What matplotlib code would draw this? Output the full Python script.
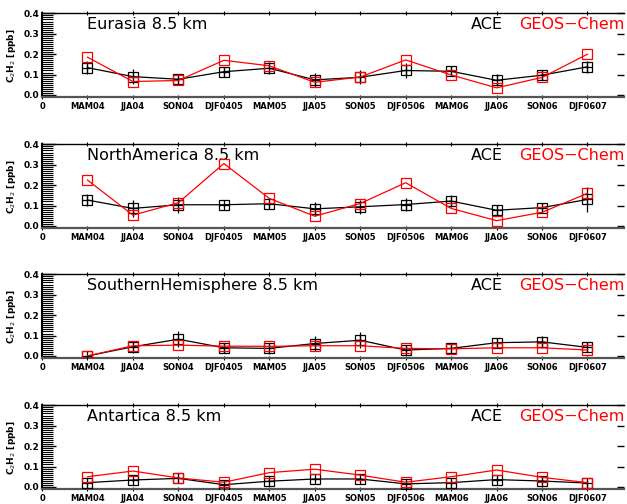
import numpy as np
import matplotlib
matplotlib.use("Agg")
from matplotlib import pyplot as plt

seasons = ["MAM04", "JJA04", "SON04", "DJF0405", "MAM05", "JJA05",
           "SON05", "DJF0506", "MAM06", "JJA06", "SON06", "DJF0607"]
regions = ["Eurasia", "NorthAmerica", "SouthernHemisphere", "Antartica"]

# ACE observations (ppb) and their error bars
ace_eurasia = [0.134, 0.090, 0.077, 0.114, 0.131, 0.074, 0.087, 0.120, 0.116, 0.072, 0.097, 0.138]
ace_eurasia_err = [0.033, 0.035, 0.015, 0.022, 0.030, 0.035, 0.035, 0.035, 0.025, 0.030, 0.025, 0.030]
ace_namerica = [0.127, 0.086, 0.104, 0.104, 0.109, 0.084, 0.094, 0.105, 0.122, 0.077, 0.090, 0.130]
ace_namerica_err = [0.030, 0.040, 0.040, 0.010, 0.015, 0.035, 0.035, 0.030, 0.030, 0.025, 0.020, 0.060]
ace_shem = [0.000, 0.045, 0.082, 0.040, 0.037, 0.061, 0.077, 0.029, 0.037, 0.065, 0.069, 0.042]
ace_shem_err = [0.000, 0.030, 0.040, 0.025, 0.025, 0.035, 0.040, 0.020, 0.020, 0.020, 0.030, 0.025]
ace_antarctica = [0.021, 0.034, 0.042, 0.011, 0.028, 0.039, 0.039, 0.015, 0.021, 0.036, 0.029, 0.019]
ace_antarctica_err = [0.015, 0.012, 0.020, 0.010, 0.015, 0.012, 0.012, 0.012, 0.015, 0.012, 0.015, 0.015]

# GEOS-Chem model (ppb)
gc_eurasia = [0.185, 0.066, 0.071, 0.170, 0.143, 0.062, 0.088, 0.172, 0.098, 0.035, 0.086, 0.200]
gc_namerica = [0.225, 0.053, 0.114, 0.306, 0.135, 0.048, 0.110, 0.212, 0.086, 0.026, 0.067, 0.160]
gc_shem = [0.000, 0.050, 0.053, 0.048, 0.047, 0.050, 0.050, 0.037, 0.035, 0.040, 0.040, 0.029]
gc_antarctica = [0.050, 0.078, 0.044, 0.023, 0.070, 0.087, 0.058, 0.023, 0.050, 0.083, 0.047, 0.021]

ace = [ace_eurasia, ace_namerica, ace_shem, ace_antarctica]
ace_err = [ace_eurasia_err, ace_namerica_err, ace_shem_err, ace_antarctica_err]
gc = [gc_eurasia, gc_namerica, gc_shem, gc_antarctica]

fig = plt.figure(figsize=(6.27, 5.04), dpi=100)
bottoms = [0.8075, 0.5476, 0.2897, 0.0298]
x = np.arange(1, len(seasons) + 1)

for i, name in enumerate(regions):
    ax = fig.add_axes([0.067, bottoms[i], 0.928, 0.166])
    ax.errorbar(x, ace[i], yerr=ace_err[i], color="black", lw=0.9,
                elinewidth=0.9, capsize=0, zorder=2)
    ax.plot(x, ace[i], ls="none", marker="s", ms=7, mfc="none",
            mec="black", mew=0.9, zorder=3)
    ax.plot(x, ace[i], ls="none", marker="+", ms=7, color="black",
            mew=0.9, zorder=3)
    ax.plot(x, gc[i], color="red", lw=0.9, marker="s", ms=7, mfc="none",
            mec="red", mew=0.9, zorder=4)

    ax.set_xlim(0, 12.8)
    ax.set_ylim(-0.01, 0.4)
    ax.set_xticks(np.arange(0, 13))
    ax.set_xticklabels(["0"] + seasons, fontsize=6, fontweight="bold")
    ax.set_yticks([0.0, 0.1, 0.2, 0.3, 0.4])
    ax.set_yticklabels(["0.0", "0.1", "0.2", "0.3", "0.4"],
                       fontsize=6.5, fontweight="bold")
    ax.set_yticks(np.arange(0, 0.4, 0.01), minor=True)
    ax.tick_params(axis="y", which="major", direction="in", length=10,
                   width=1, right=False, pad=2)
    ax.tick_params(axis="y", which="minor", direction="in", length=8,
                   width=0.8, right=False)
    ax.tick_params(axis="x", which="major", direction="inout", length=3,
                   width=0.8, top=True, pad=2)
    for s in ax.spines.values():
        s.set_linewidth(1.0)
    ax.spines["left"].set_linewidth(1.5)
    ax.spines["bottom"].set_linewidth(1.6)
    ax.spines["bottom"].set_color("#555555")
    ax.spines["right"].set_visible(False)

    # short inward ticks on the right edge
    rax = ax.secondary_yaxis("right")
    rax.set_yticks([0.0, 0.1, 0.2, 0.3, 0.4])
    rax.tick_params(direction="in", length=5, width=1, labelright=False)
    rax.spines["right"].set_visible(False)

    ax.set_ylabel("C$_2$H$_2$ [ppb]", fontsize=6.5, fontweight="bold",
                  labelpad=4)
    ax.text(1.0, 0.87, name + " 8.5 km", transform=ax.get_xaxis_transform(),
            fontsize=11.5, va="center", ha="left")
    ax.text(0.792, 0.87, "ACE", transform=ax.transAxes, fontsize=11.5,
            va="center", ha="right", color="black")
    ax.text(0.82, 0.87, "GEOS\u2212Chem", transform=ax.transAxes, fontsize=11.5,
            va="center", ha="left", color="red")

fig.savefig("out.png", dpi=100)
